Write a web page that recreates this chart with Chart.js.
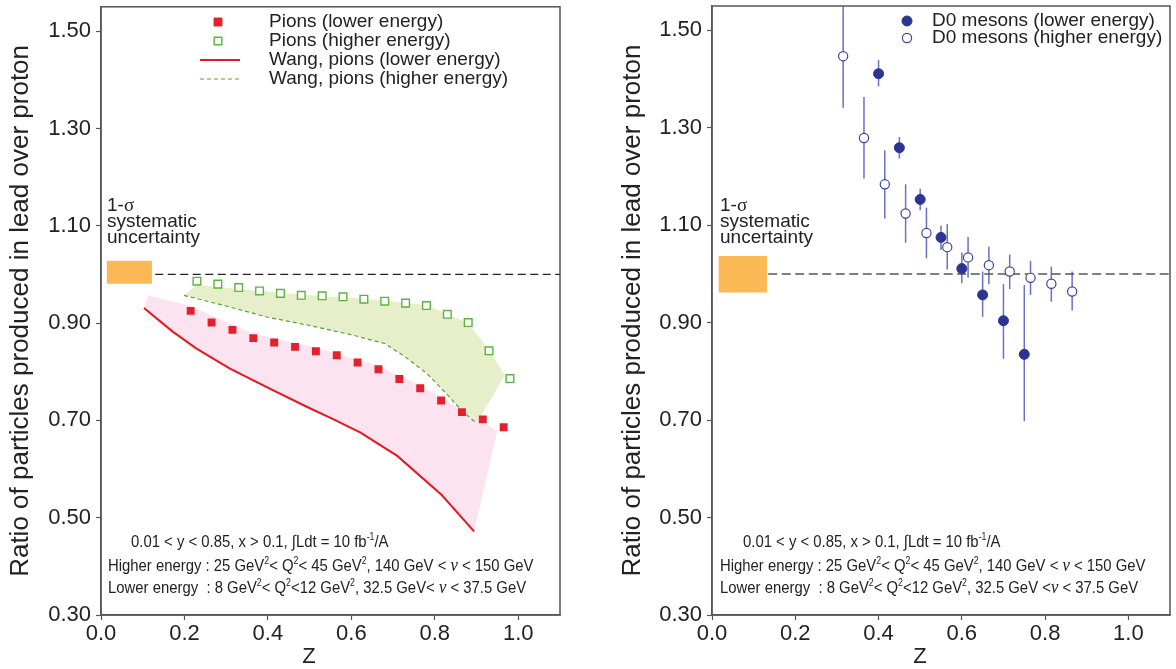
<!DOCTYPE html>
<html lang="en">
<head>
  <meta charset="UTF-8" />
  <title>Lead over proton ratio vs z</title>
  <script src="https://cdn.jsdelivr.net/npm/chart.js@4.4.1/dist/chart.umd.min.js"></script>
  <style>
    *{margin:0;padding:0;box-sizing:border-box}
    body{width:1176px;height:669px;background:#fff;position:relative;overflow:hidden;font-family:"Liberation Sans",Arial,sans-serif;color:#222}
    .panel{position:absolute;top:0;height:669px}
    #leftPanel{left:0;width:580px}
    #rightPanel{left:612px;width:564px}
    .note{position:absolute;font-size:19px;line-height:16px;white-space:nowrap}
    .note .sig{font-family:"Liberation Serif","DejaVu Serif",serif}
    /* condensed look of the original caption */
    .cond{position:absolute;font-size:17px;line-height:20px;white-space:nowrap;transform:scaleX(0.875);transform-origin:0 0}
    .cond sup{font-size:10px;vertical-align:7px;line-height:0}
    .cond i{font-family:"Liberation Serif",serif;font-size:19px}
    .ztitle{position:absolute;top:643px;font-size:22px;width:40px;text-align:center}
  </style>
</head>
<body>
  <div class="panel" id="leftPanel"><canvas id="pionChart" width="580" height="669"></canvas></div>
  <div class="panel" id="rightPanel"><canvas id="dChart" width="564" height="669"></canvas></div>

  <!-- text notes -->
  <div class="note" style="left:107px;top:197px">1-<span class="sig">σ</span><br>systematic<br>uncertainty</div>
  <div class="note" style="left:720px;top:197px">1-<span class="sig">σ</span><br>systematic<br>uncertainty</div>

  <div class="cond" style="left:131px;top:532px">0.01 &lt; y &lt; 0.85, x &gt; 0.1, ∫Ldt = 10 fb<sup>-1</sup>/A</div>
  <div class="cond" style="left:108px;top:555px">Higher energy : 25 GeV<sup>2</sup>&lt; Q<sup>2</sup>&lt; 45 GeV<sup>2</sup>, 140 GeV &lt; <i>ν</i> &lt; 150 GeV</div>
  <div class="cond" style="left:108px;top:577px">Lower energy&nbsp; : 8 GeV<sup>2</sup>&lt; Q<sup>2</sup>&lt;12 GeV<sup>2</sup>, 32.5 GeV&lt; <i>ν</i> &lt; 37.5 GeV</div>

  <div class="cond" style="left:743px;top:532px">0.01 &lt; y &lt; 0.85, x &gt; 0.1, ∫Ldt = 10 fb<sup>-1</sup>/A</div>
  <div class="cond" style="left:720px;top:555px">Higher energy : 25 GeV<sup>2</sup>&lt; Q<sup>2</sup>&lt; 45 GeV<sup>2</sup>, 140 GeV &lt; <i>ν</i> &lt; 150 GeV</div>
  <div class="cond" style="left:720px;top:577px">Lower energy&nbsp; : 8 GeV<sup>2</sup>&lt; Q<sup>2</sup>&lt;12 GeV<sup>2</sup>, 32.5 GeV &lt;<i>ν</i> &lt; 37.5 GeV</div>

  <div class="ztitle" style="left:289px">Z</div>
  <div class="ztitle" style="left:900px">Z</div>

  <script>
    // ---- data ----
    const xTicks = [0, 0.2, 0.4, 0.6, 0.8, 1.0];
    const yTicks = [0.30, 0.50, 0.70, 0.90, 1.10, 1.30, 1.50];

    // pions
    const pionLowZ  = [0.215,0.265,0.315,0.365,0.415,0.465,0.515,0.565,0.615,0.665,0.715,0.765,0.815,0.865,0.915,0.965];
    const pionLowR  = [0.925,0.901,0.886,0.869,0.860,0.851,0.842,0.834,0.819,0.805,0.785,0.766,0.741,0.717,0.702,0.686];
    const pionHighZ = [0.23,0.28,0.33,0.38,0.43,0.48,0.53,0.58,0.63,0.68,0.73,0.78,0.83,0.88,0.93,0.98];
    const pionHighR = [0.986,0.980,0.973,0.966,0.961,0.957,0.956,0.954,0.949,0.945,0.941,0.936,0.918,0.901,0.843,0.786];

    // Wang calculation curves
    const wangLowZ  = [0.103,0.171,0.228,0.308,0.396,0.493,0.555,0.622,0.710,0.816,0.894];
    const wangLowR  = [0.931,0.883,0.848,0.807,0.769,0.728,0.703,0.675,0.627,0.547,0.472];
    const wangHighZ = [0.199,0.30,0.40,0.50,0.60,0.68,0.73,0.78,0.82,0.865,0.90];
    const wangHighR = [0.957,0.935,0.912,0.895,0.876,0.858,0.830,0.797,0.762,0.720,0.694];

    // upper edges of the shaded bands (lower edge = Wang curve)
    const bandLowTopZ  = [0.113,0.215,0.365,0.515,0.665,0.765,0.865,0.95];
    const bandLowTopR  = [0.957,0.935,0.878,0.850,0.812,0.772,0.722,0.678];
    const bandHighTopZ = [0.199,0.23,0.48,0.63,0.78,0.88,0.93,0.968];
    const bandHighTopR = [0.957,0.978,0.958,0.950,0.937,0.900,0.845,0.792];

    // D0 mesons
    const d0LowZ     = [0.40,0.45,0.50,0.55,0.60,0.65,0.70,0.75];
    const d0LowR     = [1.411,1.259,1.153,1.075,1.011,0.957,0.904,0.835];
    const d0LowErrLo = [1.385,1.237,1.131,1.049,0.981,0.912,0.826,0.698];
    const d0LowErrHi = [1.439,1.281,1.175,1.099,1.044,1.005,0.979,0.977];
    const d0HighZ     = [0.315,0.365,0.415,0.465,0.515,0.565,0.615,0.665,0.715,0.765,0.815,0.865];
    const d0HighR     = [1.447,1.279,1.184,1.124,1.084,1.055,1.034,1.018,1.005,0.992,0.980,0.964];
    const d0HighErrLo = [1.341,1.196,1.114,1.064,1.032,1.009,0.992,0.979,0.969,0.957,0.943,0.925];
    const d0HighErrHi = [1.580,1.363,1.254,1.184,1.136,1.102,1.076,1.056,1.040,1.027,1.015,1.005];

    // systematic boxes and the unity line
    const sysLeftZ  = [0.014, 0.122], sysLeftR  = [0.981, 1.028];
    const sysRightZ = [0.016, 0.132], sysRightR = [0.962, 1.037];
    const unityLeftZ  = [0.13, 1.1];
    const unityRightZ = [0.135, 1.1];

    // ---- helpers ----
    const FONT = '"Liberation Sans", Arial, sans-serif';
    const pts = (xs, ys) => xs.map((x, i) => ({x, y: ys[i]}));
    const boxPts = (zs, rs) => [{x:zs[0],y:rs[0]},{x:zs[1],y:rs[0]},{x:zs[1],y:rs[1]},{x:zs[0],y:rs[1]},{x:zs[0],y:rs[0]}];
    const polygon = (topZ, topR, botZ, botR) =>
      pts(topZ, topR).concat(pts(botZ, botR).reverse(), [{x: topZ[0], y: topR[0]}]);

    // frame round the plot area
    const frame = {
      id: 'frame',
      afterDatasetsDraw(chart) {
        const {ctx, chartArea: a} = chart;
        ctx.save();
        ctx.strokeStyle = '#555'; ctx.lineWidth = 1.5;
        ctx.strokeRect(a.left, a.top, a.right - a.left, a.bottom - a.top);
        ctx.restore();
      }
    };

    // vertical error bars from errLo / errHi of a dataset
    const errorBars = {
      id: 'errorBars',
      beforeDatasetsDraw(chart) {
        const {ctx, chartArea: a, scales: {x, y}} = chart;
        ctx.save();
        ctx.beginPath(); ctx.rect(a.left, a.top, a.right - a.left, a.bottom - a.top); ctx.clip();
        chart.data.datasets.forEach(ds => {
          if (!ds.errLo) return;
          ctx.strokeStyle = ds.errColor; ctx.lineWidth = 1.5;
          ds.data.forEach((p, i) => {
            const px = x.getPixelForValue(p.x);
            ctx.beginPath();
            ctx.moveTo(px, y.getPixelForValue(ds.errLo[i]));
            ctx.lineTo(px, y.getPixelForValue(ds.errHi[i]));
            ctx.stroke();
          });
        });
        ctx.restore();
      }
    };

    // legend inside the plot area
    const insetLegend = {
      id: 'insetLegend',
      afterDraw(chart, args, opts) {
        const ctx = chart.ctx;
        ctx.save();
        ctx.font = '19px ' + FONT;
        ctx.textBaseline = 'middle';
        opts.rows.forEach((idx, i) => {
          const ds = chart.data.datasets[idx];
          const y = opts.y + i * opts.step, mx = opts.markX;
          if (ds.showLine) {
            ctx.beginPath();
            ctx.strokeStyle = ds.borderColor; ctx.lineWidth = ds.borderWidth;
            ctx.setLineDash(ds.borderDash || []);
            ctx.moveTo(mx - 18, y); ctx.lineTo(mx + 22, y); ctx.stroke();
            ctx.setLineDash([]);
          } else {
            ctx.beginPath();
            ctx.fillStyle = ds.pointBackgroundColor; ctx.strokeStyle = ds.pointBorderColor;
            ctx.lineWidth = ds.pointBorderWidth;
            if (ds.pointStyle === 'rect') {
              const s = ds.pointRadius * Math.SQRT1_2;
              ctx.rect(mx - s, y - s, 2 * s, 2 * s);
            } else {
              ctx.arc(mx, y, ds.pointRadius, 0, Math.PI * 2);
            }
            ctx.fill(); ctx.stroke();
          }
          ctx.fillStyle = '#222';
          ctx.fillText(ds.label, opts.textX, y);
        });
        ctx.restore();
      }
    };

    function scalesFor(yAxisWidth, titlePad) {
      return {
        x: {
          type: 'linear', min: 0, max: 1.1,
          afterBuildTicks: s => { s.ticks = xTicks.map(v => ({value: v})); },
          afterFit: s => { s.height = 54; s.paddingLeft = 0; s.paddingRight = 0; },
          grid: {drawOnChartArea: false, tickLength: 5, tickColor: '#555', tickWidth: 1.2},
          border: {color: '#555', width: 1.5},
          ticks: {font: {size: 22, family: FONT}, color: '#222', padding: 1, maxRotation: 0,
                  callback: v => v.toFixed(1)}
        },
        y: {
          type: 'linear', min: 0.30, max: 1.55,
          afterBuildTicks: s => { s.ticks = yTicks.map(v => ({value: v})); },
          afterFit: s => { s.width = yAxisWidth; s.paddingTop = 0; s.paddingBottom = 0; },
          grid: {drawOnChartArea: false, tickLength: 5, tickColor: '#555', tickWidth: 1.2},
          border: {color: '#555', width: 1.5},
          ticks: {font: {size: 22, family: FONT}, color: '#222', padding: 5,
                  callback: v => v.toFixed(2)},
          title: {display: true, text: 'Ratio of particles produced in lead over proton',
                  font: {size: 26, family: FONT}, color: '#222', padding: {top: titlePad, bottom: 0}}
        }
      };
    }

    const common = (pad, rows) => ({
      responsive: false, animation: false,
      layout: {padding: pad},
      plugins: {legend: {display: false}, tooltip: {enabled: false}, insetLegend: rows},
      elements: {line: {tension: 0}}
    });

    // ---- left panel: pions ----
    new Chart(document.getElementById('pionChart'), {
      type: 'scatter',
      data: {datasets: [
        {label: 'Pions (lower energy)', data: pts(pionLowZ, pionLowR), pointStyle: 'rect', pointRadius: 5.6,
         pointBackgroundColor: '#e3202b', pointBorderColor: '#e3202b', pointBorderWidth: 0, order: 0},
        {label: 'Pions (higher energy)', data: pts(pionHighZ, pionHighR), pointStyle: 'rect', pointRadius: 5.4,
         pointBackgroundColor: '#fff', pointBorderColor: '#5bb53a', pointBorderWidth: 1.4, order: 0},
        {label: 'Wang, pions (lower energy)', data: pts(wangLowZ, wangLowR), showLine: true, pointRadius: 0,
         borderColor: '#e8171f', borderWidth: 2, order: 2},
        {label: 'Wang, pions (higher energy)', data: pts(wangHighZ, wangHighR), showLine: true, pointRadius: 0,
         borderColor: '#4fa832', borderWidth: 1.2, borderDash: [4, 3], order: 2},
        {label: 'band low', data: polygon(bandLowTopZ, bandLowTopR, wangLowZ, wangLowR), showLine: true, pointRadius: 0,
         borderWidth: 0, borderColor: 'rgba(0,0,0,0)', backgroundColor: '#fbe4f0', fill: 'shape', order: 5},
        {label: 'band high', data: polygon(bandHighTopZ, bandHighTopR, wangHighZ, wangHighR), showLine: true, pointRadius: 0,
         borderWidth: 0, borderColor: 'rgba(0,0,0,0)', backgroundColor: '#e6efc9', fill: 'shape', order: 5},
        {label: 'systematic', data: boxPts(sysLeftZ, sysLeftR), showLine: true, pointRadius: 0,
         borderWidth: 0, borderColor: 'rgba(0,0,0,0)', backgroundColor: '#fbb955', fill: 'shape', order: 4},
        {label: 'unity', data: pts(unityLeftZ, [1, 1]), showLine: true, pointRadius: 0,
         borderColor: '#222', borderWidth: 1.2, borderDash: [8, 4.5], order: 3}
      ]},
      options: Object.assign(common({top: 5, right: 20, left: 0, bottom: 0},
        {rows: [0, 1, 2, 3], markX: 218, textX: 269, y: 22, step: 19}),
        {scales: scalesFor(101, 5)}),
      plugins: [frame, insetLegend]
    });

    // ---- right panel: D0 mesons ----
    new Chart(document.getElementById('dChart'), {
      type: 'scatter',
      data: {datasets: [
        {label: 'D0 mesons (lower energy)', data: pts(d0LowZ, d0LowR), pointStyle: 'circle', pointRadius: 5,
         pointBackgroundColor: '#2b3591', pointBorderColor: '#2b3591', pointBorderWidth: 1,
         errLo: d0LowErrLo, errHi: d0LowErrHi, errColor: '#6a70c4', order: 0},
        {label: 'D0 mesons (higher energy)', data: pts(d0HighZ, d0HighR), pointStyle: 'circle', pointRadius: 4.6,
         pointBackgroundColor: '#fff', pointBorderColor: '#3a44a0', pointBorderWidth: 1.2,
         errLo: d0HighErrLo, errHi: d0HighErrHi, errColor: '#6a70c4', order: 0},
        {label: 'systematic', data: boxPts(sysRightZ, sysRightR), showLine: true, pointRadius: 0,
         borderWidth: 0, borderColor: 'rgba(0,0,0,0)', backgroundColor: '#fbb955', fill: 'shape', order: 4},
        {label: 'unity', data: pts(unityRightZ, [1, 1]), showLine: true, pointRadius: 0,
         borderColor: '#555', borderWidth: 1.5, borderDash: [9, 4.5], order: 3}
      ]},
      options: Object.assign(common({top: 5, right: 5, left: 0, bottom: 0},
        {rows: [0, 1], markX: 295, textX: 320, y: 21, step: 17}),
        {scales: scalesFor(100, 5)}),
      plugins: [frame, errorBars, insetLegend]
    });
  </script>
</body>
</html>
